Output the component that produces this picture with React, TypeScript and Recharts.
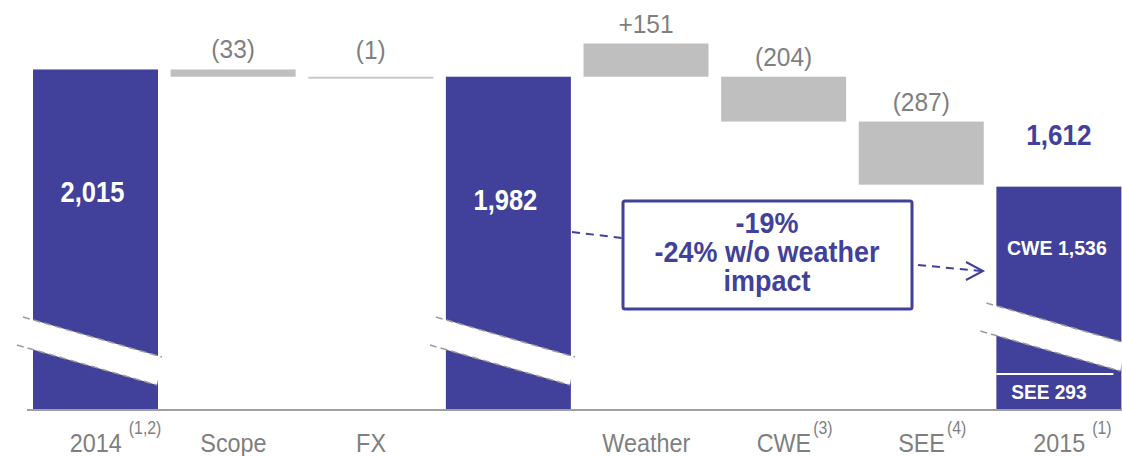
import { BarChart, Bar, XAxis, YAxis, Customized } from 'recharts';

const AXIS_MIN = 466;
const AXIS_MAX = 2240;

const categories = ['2014', 'Scope', 'FX', '', 'Weather', 'CWE', 'SEE', '2015'];
const footnotes = ['(1,2)', '', '', '', '', '(3)', '(4)', '(1)'];
const barStart = [AXIS_MIN, 1982, 1981, AXIS_MIN, 1982, 1778, 1491, AXIS_MIN];
const barEnd = [2015, 2015, 1982, 1982, 2133, 1982, 1778, 1482];
const isTotal = [true, false, false, true, false, false, false, true];
const changeLabels = ['', '(33)', '(1)', '', '+151', '(204)', '(287)', '1,612'];
const insideLabels = ['2,015', '', '', '1,982', '', '', '', 'CWE 1,536'];
const bottomLabels = ['', '', '', '', '', '', '', 'SEE 293'];
const annotationLines = ['-19%', '-24% w/o weather', 'impact'];

const BLUE = '#41419b';
const GRAY = '#bfbfbf';
const TEXT_GRAY = '#7f7f7f';
const FONT = '"Liberation Sans", Arial, sans-serif';

const data = categories.map((name, i) => ({
  name,
  range: [barStart[i], barEnd[i]],
  total: isTotal[i],
  change: changeLabels[i],
  inside: insideLabels[i],
  bottom: bottomLabels[i],
  note: footnotes[i],
}));

let ctx: CanvasRenderingContext2D | null = null;
function textWidth(s: string, size: number) {
  if (!ctx) ctx = document.createElement('canvas').getContext('2d');
  if (!ctx) return s.length * size * 0.55;
  ctx.font = `${size}px ${FONT}`;
  return ctx.measureText(s).width;
}

// the original uses a condensed face; squeeze a regular one horizontally
function SText({ x, y, sx = 0.92, anchor = 'middle', children, ...rest }: any) {
  return (
    <text transform={`translate(${x} ${y}) scale(${sx} 1)`} textAnchor={anchor} fontFamily={FONT} {...rest}>
      {children}
    </text>
  );
}

function BreakMark({ x, w, bottom }: { x: number; w: number; bottom: number }) {
  const p1 = [x - 10, bottom - 93];
  const p2 = [x + w + 4, bottom - 53];
  const p3 = [x + w - 1, bottom - 25];
  const p4 = [x - 16, bottom - 65];
  const dash = { stroke: '#9c9c9c', strokeWidth: 1.5, strokeDasharray: '7 4' };
  return (
    <g>
      <polygon points={[p1, p2, p3, p4].map((p) => p.join(',')).join(' ')} fill="#fff" />
      <line x1={p1[0]} y1={p1[1]} x2={p2[0]} y2={p2[1]} {...dash} />
      <line x1={p4[0]} y1={p4[1]} x2={p3[0]} y2={p3[1]} {...dash} />
    </g>
  );
}

function WaterfallBar(props: any) {
  const { x, y, width, height, index, payload } = props;
  const fill = payload.total ? BLUE : index === 2 ? '#c8c8c8' : GRAY;
  const h = Math.max(height, 2);
  const cx = x + width / 2;
  const bottom = y + height;
  const last = index === categories.length - 1;
  // tiny steps keep their label level with the neighbour's
  const labelY = height < 3 ? y - 18 : y - 11;
  return (
    <g>
      <rect x={x} y={y} width={width} height={h} fill={fill} />
      {payload.total && <BreakMark x={x} w={width} bottom={last ? bottom - 14 : bottom} />}
      {payload.change && !payload.total && (
        <SText x={cx} y={labelY} sx={0.98} fontSize={25} fill={TEXT_GRAY}>
          {payload.change}
        </SText>
      )}
      {payload.change && payload.total && (
        <SText x={cx} y={y - 42} sx={0.9} fontSize={29} fontWeight="bold" fill={BLUE}>
          {payload.change}
        </SText>
      )}
      {payload.inside && !last && (
        <SText x={cx - 3} y={y + 133} sx={0.85} fontSize={30} fontWeight="bold" fill="#fff">
          {payload.inside}
        </SText>
      )}
      {payload.inside && last && (
        <SText x={cx - 2} y={y + 68} sx={0.93} fontSize={21} fontWeight="bold" fill="#fff">
          {payload.inside}
        </SText>
      )}
      {payload.bottom && (
        <g>
          <line x1={x} x2={x + width - 8} y1={bottom - 36} y2={bottom - 36} stroke="#fff" strokeWidth={2} />
          <SText x={cx - 10} y={bottom - 11} sx={0.91} fontSize={21} fontWeight="bold" fill="#fff">
            {payload.bottom}
          </SText>
        </g>
      )}
    </g>
  );
}

function CategoryTick(props: any) {
  const { x, y, index, payload } = props;
  const label = payload.value as string;
  const note = footnotes[index];
  const w = textWidth(label, 26) * 0.9;
  const gap = /\d$/.test(label) ? 7 : 2;
  return (
    <g>
      <SText x={x} y={y + 42} sx={0.9} fontSize={26} fill={TEXT_GRAY}>
        {label}
      </SText>
      {note && (
        <SText x={x + w / 2 + gap} y={y + 24} sx={0.88} anchor="start" fontSize={18} fill={TEXT_GRAY}>
          {note}
        </SText>
      )}
    </g>
  );
}

function Annotation() {
  return (
    <g>
      <line x1={572} y1={232} x2={622} y2={238} stroke={BLUE} strokeWidth={2} strokeDasharray="8 6" />
      <rect x={623} y={201} width={289} height={108} rx={2} fill="#fff" stroke={BLUE} strokeWidth={3} />
      {annotationLines.map((t, i) => (
        <SText key={t} x={767} y={233 + i * 29} sx={0.93} fontSize={29} fontWeight="bold" fill={BLUE}>
          {t}
        </SText>
      ))}
      <line x1={918} y1={265} x2={981} y2={271} stroke={BLUE} strokeWidth={2} strokeDasharray="8 6" />
      <polyline points="966,262 983,271 966,280" fill="none" stroke={BLUE} strokeWidth={2} />
    </g>
  );
}

export default function App() {
  return (
    <div style={{ position: 'absolute', left: 0, top: 0, width: 1122, height: 456, overflow: 'hidden', background: '#fff' }}>
      <BarChart width={1128} height={456} data={data} margin={{ top: 20, right: 0, left: 27, bottom: 0 }}>
        <XAxis
          dataKey="name"
          height={46}
          tickLine={false}
          tickSize={0}
          tickMargin={0}
          axisLine={{ stroke: '#a0a0a0', strokeWidth: 2 }}
          tick={<CategoryTick />}
          interval={0}
        />
        <YAxis hide domain={[AXIS_MIN, AXIS_MAX]} />
        <Bar dataKey="range" barSize={125} shape={<WaterfallBar />} isAnimationActive={false} />
        <Customized component={Annotation} />
      </BarChart>
    </div>
  );
}
